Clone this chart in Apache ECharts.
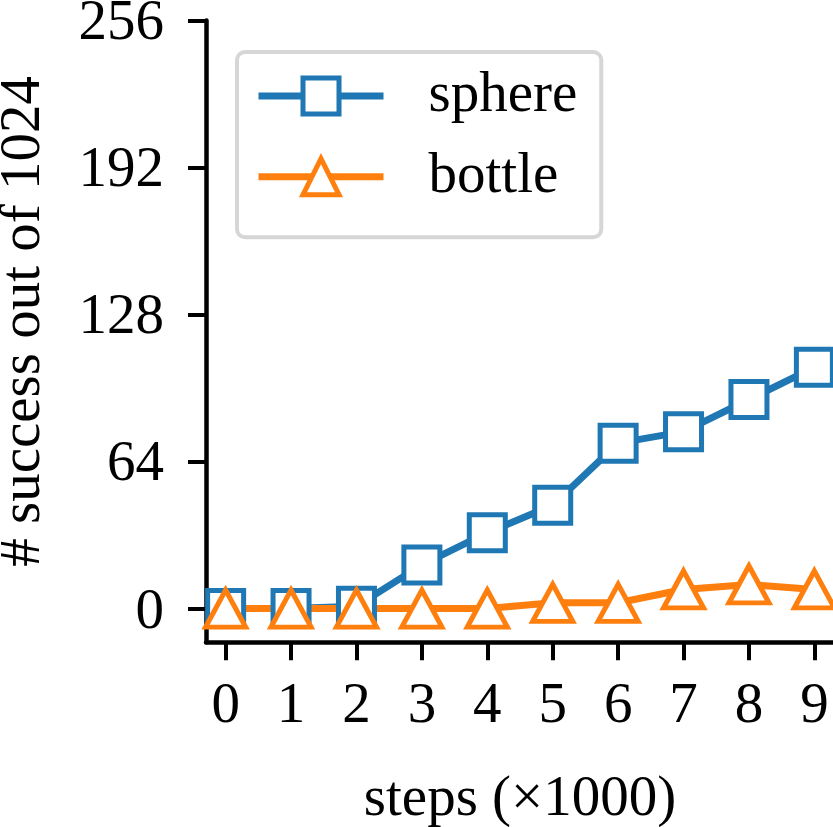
<!DOCTYPE html>
<html>
<head>
<meta charset="utf-8">
<script src="https://cdn.jsdelivr.net/npm/echarts@6/dist/echarts.min.js"></script>
<style>
  html, body { margin: 0; padding: 0; background: #fff; }
  #chart { width: 833px; height: 827px; }
</style>
</head>
<body>
<div id="chart"></div>
<script>
// steps (x1000) and successes out of 1024
const steps = [0, 1, 2, 3, 4, 5, 6, 7, 8, 9];
const sphere = [0, 0, 1, 19, 33, 45, 72, 77, 91, 105];
const bottle = [0, 0, 0, 0, 0, 2.5, 2.5, 8.3, 10.5, 8.3];
const yTicks = [0, 64, 128, 192, 256];

const FONT = 'Liberation Serif';
const FS = 57;
const BLUE = '#1f77b4';
const ORANGE = '#ff7f0e';

const chart = echarts.init(document.getElementById('chart'));

function pairs(ys) {
    return steps.map((x, i) => [x, ys[i]]);
}

chart.setOption({
    animation: false,
    backgroundColor: '#fff',
    textStyle: { fontFamily: FONT },
    grid: { left: 206, top: 20.5, width: 628, bottom: 184.7, outerBoundsMode: 'none', containLabel: false },
    legend: {
        left: 237,
        top: 52,
        orient: 'vertical',
        itemWidth: 125,
        itemHeight: 45,
        itemGap: 23.7,
        padding: [15.5, 24, 32, 18],
        borderColor: '#d6d6d6',
        borderWidth: 4,
        borderRadius: 8,
        backgroundColor: '#fff',
        lineStyle: { width: 7 },
        itemStyle: { borderWidth: 5 },
        textStyle: {
            fontFamily: FONT,
            fontSize: FS,
            lineHeight: 45,
            color: '#000',
            padding: [0, 0, 0, 40]
        },
        data: ['sphere', 'bottle']
    },
    xAxis: {
        type: 'value',
        min: -0.3,
        max: 9.3,
        name: 'steps (×1000)',
        nameLocation: 'middle',
        nameGap: 129,
        nameTextStyle: { fontFamily: FONT, fontSize: FS, color: '#000', lineHeight: 57 },
        axisLine: { onZero: false, lineStyle: { color: '#000', width: 4.5 } },
        axisTick: { customValues: steps, length: 18, lineStyle: { color: '#000', width: 4 } },
        axisLabel: {
            customValues: steps,
            margin: 36,
            fontFamily: FONT,
            fontSize: FS,
            lineHeight: 57,
            color: '#000'
        },
        splitLine: { show: false }
    },
    yAxis: {
        type: 'value',
        min: -14.7,
        max: 256,
        name: '# success out of 1024',
        nameLocation: 'middle',
        nameGap: 153,
        nameRotate: 90,
        nameTextStyle: {
            fontFamily: FONT, fontSize: FS, color: '#000', lineHeight: 57,
            padding: [0, 0, 0, 20]
        },
        axisLine: { show: true, onZero: false, lineStyle: { color: '#000', width: 4.5 } },
        axisTick: { show: true, customValues: yTicks, length: 18, lineStyle: { color: '#000', width: 4 } },
        axisLabel: {
            customValues: yTicks,
            margin: 42,
            formatter: '{v|{value}}',
            rich: {
                v: {
                    fontFamily: FONT,
                    fontSize: FS,
                    lineHeight: 57,
                    padding: [8, 0, 0, 0],
                    color: '#000'
                }
            }
        },
        splitLine: { show: false }
    },
    series: [
        {
            name: 'sphere',
            type: 'line',
            data: pairs(sphere),
            color: BLUE,
            symbol: 'rect',
            symbolSize: 36,
            lineStyle: { color: BLUE, width: 7 },
            itemStyle: { color: '#fff', borderColor: BLUE, borderWidth: 5 }
        },
        {
            name: 'bottle',
            type: 'line',
            data: pairs(bottle),
            color: ORANGE,
            symbol: 'triangle',
            symbolSize: [40, 37],
            lineStyle: { color: ORANGE, width: 7 },
            itemStyle: { color: '#fff', borderColor: ORANGE, borderWidth: 5 }
        }
    ]
});
</script>
</body>
</html>
